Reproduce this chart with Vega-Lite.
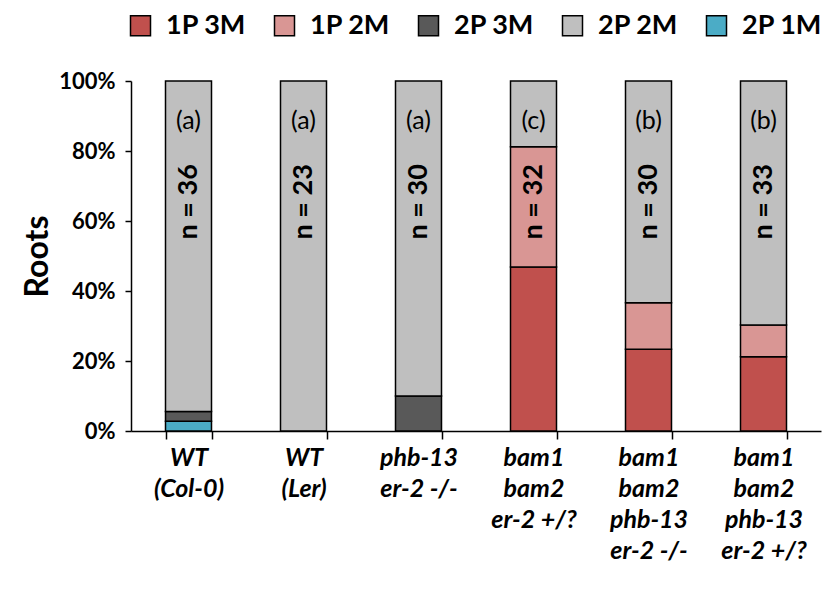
{
  "$schema": "https://vega.github.io/schema/vega-lite/v6.json",
  "width": 690,
  "height": 350,
  "autosize": "none",
  "padding": {"left": 131, "top": 81, "right": 12, "bottom": 158},
  "background": "white",
  "config": {
    "view": {"stroke": null},
    "font": "Lato"
  },
  "datasets": {
    "bars": [
      {"genotype": "WT|(Col-0)", "type": "2P 1M", "share": 0.0278},
      {"genotype": "WT|(Col-0)", "type": "2P 3M", "share": 0.0278},
      {"genotype": "WT|(Col-0)", "type": "2P 2M", "share": 0.9444},
      {"genotype": "WT|(Ler)", "type": "2P 2M", "share": 1.0},
      {"genotype": "phb-13|er-2 -/-", "type": "2P 3M", "share": 0.1},
      {"genotype": "phb-13|er-2 -/-", "type": "2P 2M", "share": 0.9},
      {"genotype": "bam1|bam2|er-2 +/?", "type": "1P 3M", "share": 0.46875},
      {"genotype": "bam1|bam2|er-2 +/?", "type": "1P 2M", "share": 0.34375},
      {"genotype": "bam1|bam2|er-2 +/?", "type": "2P 2M", "share": 0.1875},
      {"genotype": "bam1|bam2|phb-13|er-2 -/-", "type": "1P 3M", "share": 0.2333},
      {"genotype": "bam1|bam2|phb-13|er-2 -/-", "type": "1P 2M", "share": 0.1333},
      {"genotype": "bam1|bam2|phb-13|er-2 -/-", "type": "2P 2M", "share": 0.6334},
      {"genotype": "bam1|bam2|phb-13|er-2 +/?", "type": "1P 3M", "share": 0.2121},
      {"genotype": "bam1|bam2|phb-13|er-2 +/?", "type": "1P 2M", "share": 0.0909},
      {"genotype": "bam1|bam2|phb-13|er-2 +/?", "type": "2P 2M", "share": 0.697}
    ],
    "stackOrder": [
      {"type": "2P 1M", "rank": 1},
      {"type": "2P 3M", "rank": 2},
      {"type": "1P 3M", "rank": 3},
      {"type": "1P 2M", "rank": 4},
      {"type": "2P 2M", "rank": 5}
    ],
    "notes": [
      {"genotype": "WT|(Col-0)", "letter": "(a)", "n": "n = 36", "letterPos": 0.885, "nPos": 0.655},
      {"genotype": "WT|(Ler)", "letter": "(a)", "n": "n = 23", "letterPos": 0.885, "nPos": 0.655},
      {"genotype": "phb-13|er-2 -/-", "letter": "(a)", "n": "n = 30", "letterPos": 0.885, "nPos": 0.655},
      {"genotype": "bam1|bam2|er-2 +/?", "letter": "(c)", "n": "n = 32", "letterPos": 0.885, "nPos": 0.655},
      {"genotype": "bam1|bam2|phb-13|er-2 -/-", "letter": "(b)", "n": "n = 30", "letterPos": 0.885, "nPos": 0.655},
      {"genotype": "bam1|bam2|phb-13|er-2 +/?", "letter": "(b)", "n": "n = 33", "letterPos": 0.885, "nPos": 0.655}
    ]
  },
  "layer": [
    {
      "data": {"name": "bars"},
      "transform": [
        {"lookup": "type", "from": {"data": {"name": "stackOrder"}, "key": "type", "fields": ["rank"]}},
        {"stack": "share", "groupby": ["genotype"], "sort": [{"field": "rank", "order": "ascending"}], "as": ["lo", "hi"]}
      ],
      "mark": {"type": "bar", "stroke": "black", "strokeWidth": 1.5},
      "encoding": {
        "x": {
          "field": "genotype",
          "type": "nominal",
          "sort": null,
          "scale": {"paddingInner": 0.6, "paddingOuter": 0.3},
          "axis": {
            "title": null,
            "labelExpr": "split(datum.label, '|')",
            "labelAngle": 0,
            "labelFont": "Lato",
            "labelFontSize": 25,
            "labelFontWeight": "bold",
            "labelFontStyle": "italic",
            "labelColor": "black",
            "labelLineHeight": 31,
            "labelBaseline": "top",
            "labelPadding": 6,
            "tickBand": "extent",
            "tickSize": 8,
            "tickColor": "black",
            "tickWidth": 1.5,
            "domainColor": "black",
            "domainWidth": 1.5
          }
        },
        "y": {
          "field": "hi",
          "type": "quantitative",
          "scale": {"domain": [0, 1]},
          "axis": {
            "title": "Roots",
            "titleFont": "Lato",
            "titleFontSize": 32,
            "titleFontWeight": "bold",
            "titleColor": "black",
            "titlePadding": 4,
            "format": "%",
            "values": [0, 0.2, 0.4, 0.6, 0.8, 1],
            "grid": false,
            "labelFont": "Lato",
            "labelFontSize": 22,
            "labelFontWeight": "bold",
            "labelColor": "black",
            "labelPadding": 10,
            "tickSize": 6,
            "tickColor": "black",
            "tickWidth": 1.5,
            "domainColor": "black",
            "domainWidth": 1.5
          }
        },
        "y2": {"field": "lo"},
        "color": {
          "field": "type",
          "type": "nominal",
          "scale": {
            "domain": ["1P 3M", "1P 2M", "2P 3M", "2P 2M", "2P 1M"],
            "range": ["#c0504d", "#d99694", "#595959", "#bfbfbf", "#4bacc6"]
          },
          "legend": {
            "title": null,
            "orient": "none",
            "direction": "horizontal",
            "legendX": -4,
            "legendY": -69,
            "symbolType": "square",
            "symbolSize": 400,
            "symbolStrokeColor": "black",
            "symbolStrokeWidth": 1.5,
            "symbolOpacity": 1,
            "labelFont": "Lato",
            "labelFontSize": 27,
            "labelFontWeight": "bold",
            "labelColor": "black",
            "labelOffset": 12,
            "columnPadding": 24
          }
        }
      }
    },
    {
      "data": {"name": "notes"},
      "mark": {"type": "text", "font": "Lato", "fontSize": 25, "color": "black", "baseline": "middle", "align": "center"},
      "encoding": {
        "x": {"field": "genotype", "type": "nominal", "sort": null},
        "y": {"field": "letterPos", "type": "quantitative"},
        "text": {"field": "letter"}
      }
    },
    {
      "data": {"name": "notes"},
      "mark": {"type": "text", "font": "Lato", "fontSize": 27, "fontWeight": "bold", "color": "black", "baseline": "middle", "align": "center", "angle": 270},
      "encoding": {
        "x": {"field": "genotype", "type": "nominal", "sort": null},
        "y": {"field": "nPos", "type": "quantitative"},
        "text": {"field": "n"}
      }
    }
  ]
}
